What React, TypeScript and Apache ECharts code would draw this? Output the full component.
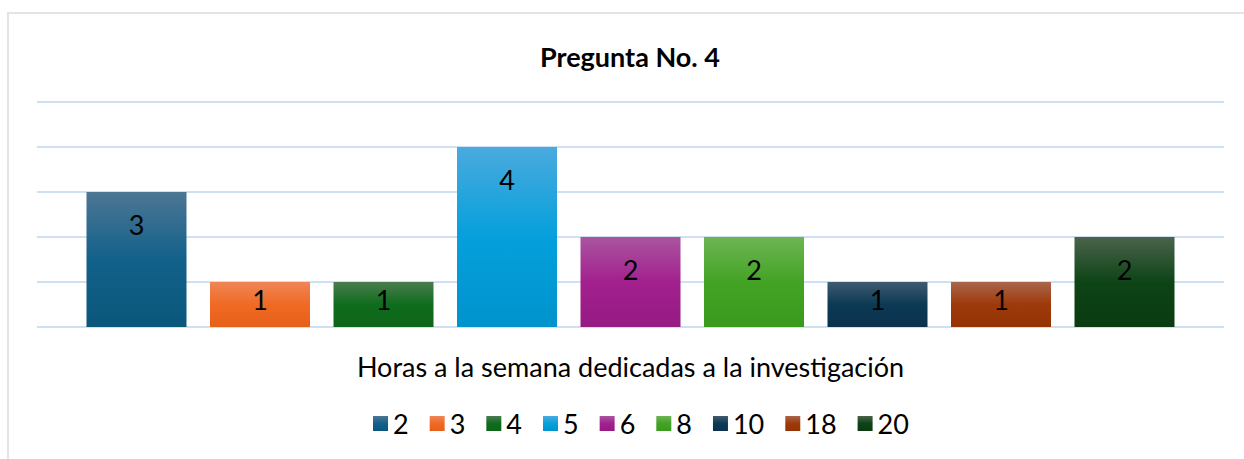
import React, { useEffect, useRef } from "react";
import * as echarts from "echarts";

const title = "Pregunta No. 4";
const axisName = "Horas a la semana dedicadas a la investigación";
const seriesNames = ["2", "3", "4", "5", "6", "8", "10", "18", "20"];
const seriesValues = [3, 1, 1, 4, 2, 2, 1, 1, 2];
const topColors = ["#4d7694", "#ef8657", "#4a7d4f", "#4aaade", "#aa55a0", "#6db553", "#3f5b6f", "#a9654b", "#4b634b"];
const midColors = ["#12618a", "#f06a24", "#0f6c1d", "#05a0dc", "#a2208e", "#43a325", "#0c3955", "#9e3a0a", "#0d4416"];
const bottomColors = ["#0b577b", "#e5601b", "#0e6519", "#0093cd", "#961b83", "#3a9a1d", "#0a324d", "#943305", "#0b3b12"];

const FONT = "Lato, 'Open Sans', sans-serif";

export default function App() {
  const ref = useRef<HTMLDivElement>(null);
  useEffect(() => {
    if (!ref.current) return;
    const chart = echarts.init(ref.current, null, { renderer: "svg" });
    const series = seriesNames.map((name, i) => ({
      name,
      type: "bar",
      barWidth: 100,
      barGap: "23.5%",
      data: [
        {
          value: seriesValues[i],
          label: {
            show: true,
            position: "insideTop",
            distance: seriesValues[i] > 1 ? 19 : 4,
            color: "#000",
            fontSize: 27,
            fontFamily: FONT,
          },
        },
      ],
      itemStyle: {
        color: new echarts.graphic.LinearGradient(0, 0, 0, 1, [
          { offset: 0, color: topColors[i] },
          { offset: 0.5, color: midColors[i] },
          { offset: 1, color: bottomColors[i] },
        ]),
      },
    }));
    chart.setOption({
      animation: false,
      backgroundColor: "#fff",
      title: {
        text: title,
        left: 535,
        top: 38,
        textStyle: { fontSize: 27, fontWeight: "bold", color: "#000", fontFamily: FONT },
      },
      graphic: [
        {
          type: "rect",
          shape: { x: 8, y: 13, width: 1300, height: 500 },
          style: { fill: "none", stroke: "#e4e4e4", lineWidth: 2 },
          silent: true,
        },
      ],
      legend: {
        bottom: 17,
        left: 368,
        itemWidth: 15,
        itemHeight: 15,
        itemGap: 21,
        icon: "rect",
        textStyle: { fontSize: 27, color: "#000", fontFamily: FONT },
        data: seriesNames,
      },
      grid: { left: 37, right: 20, top: 102, bottom: 132 },
      xAxis: {
        type: "category",
        data: [""],
        axisTick: { show: false },
        axisLabel: { show: false },
        axisLine: { show: false },
        name: axisName,
        nameLocation: "middle",
        nameGap: 26,
        nameTextStyle: { fontSize: 27, color: "#000", fontFamily: FONT },
      },
      yAxis: {
        type: "value",
        min: 0,
        max: 5,
        interval: 1,
        axisLabel: { show: false },
        axisLine: { show: false },
        axisTick: { show: false },
        splitLine: { lineStyle: { color: "#cfe0f3", width: 2 } },
      },
      series,
    });
    return () => chart.dispose();
  }, []);
  return (
    <div
      ref={ref}
      style={{ position: "fixed", left: 0, top: 0, width: 1244, height: 459 }}
    />
  );
}
